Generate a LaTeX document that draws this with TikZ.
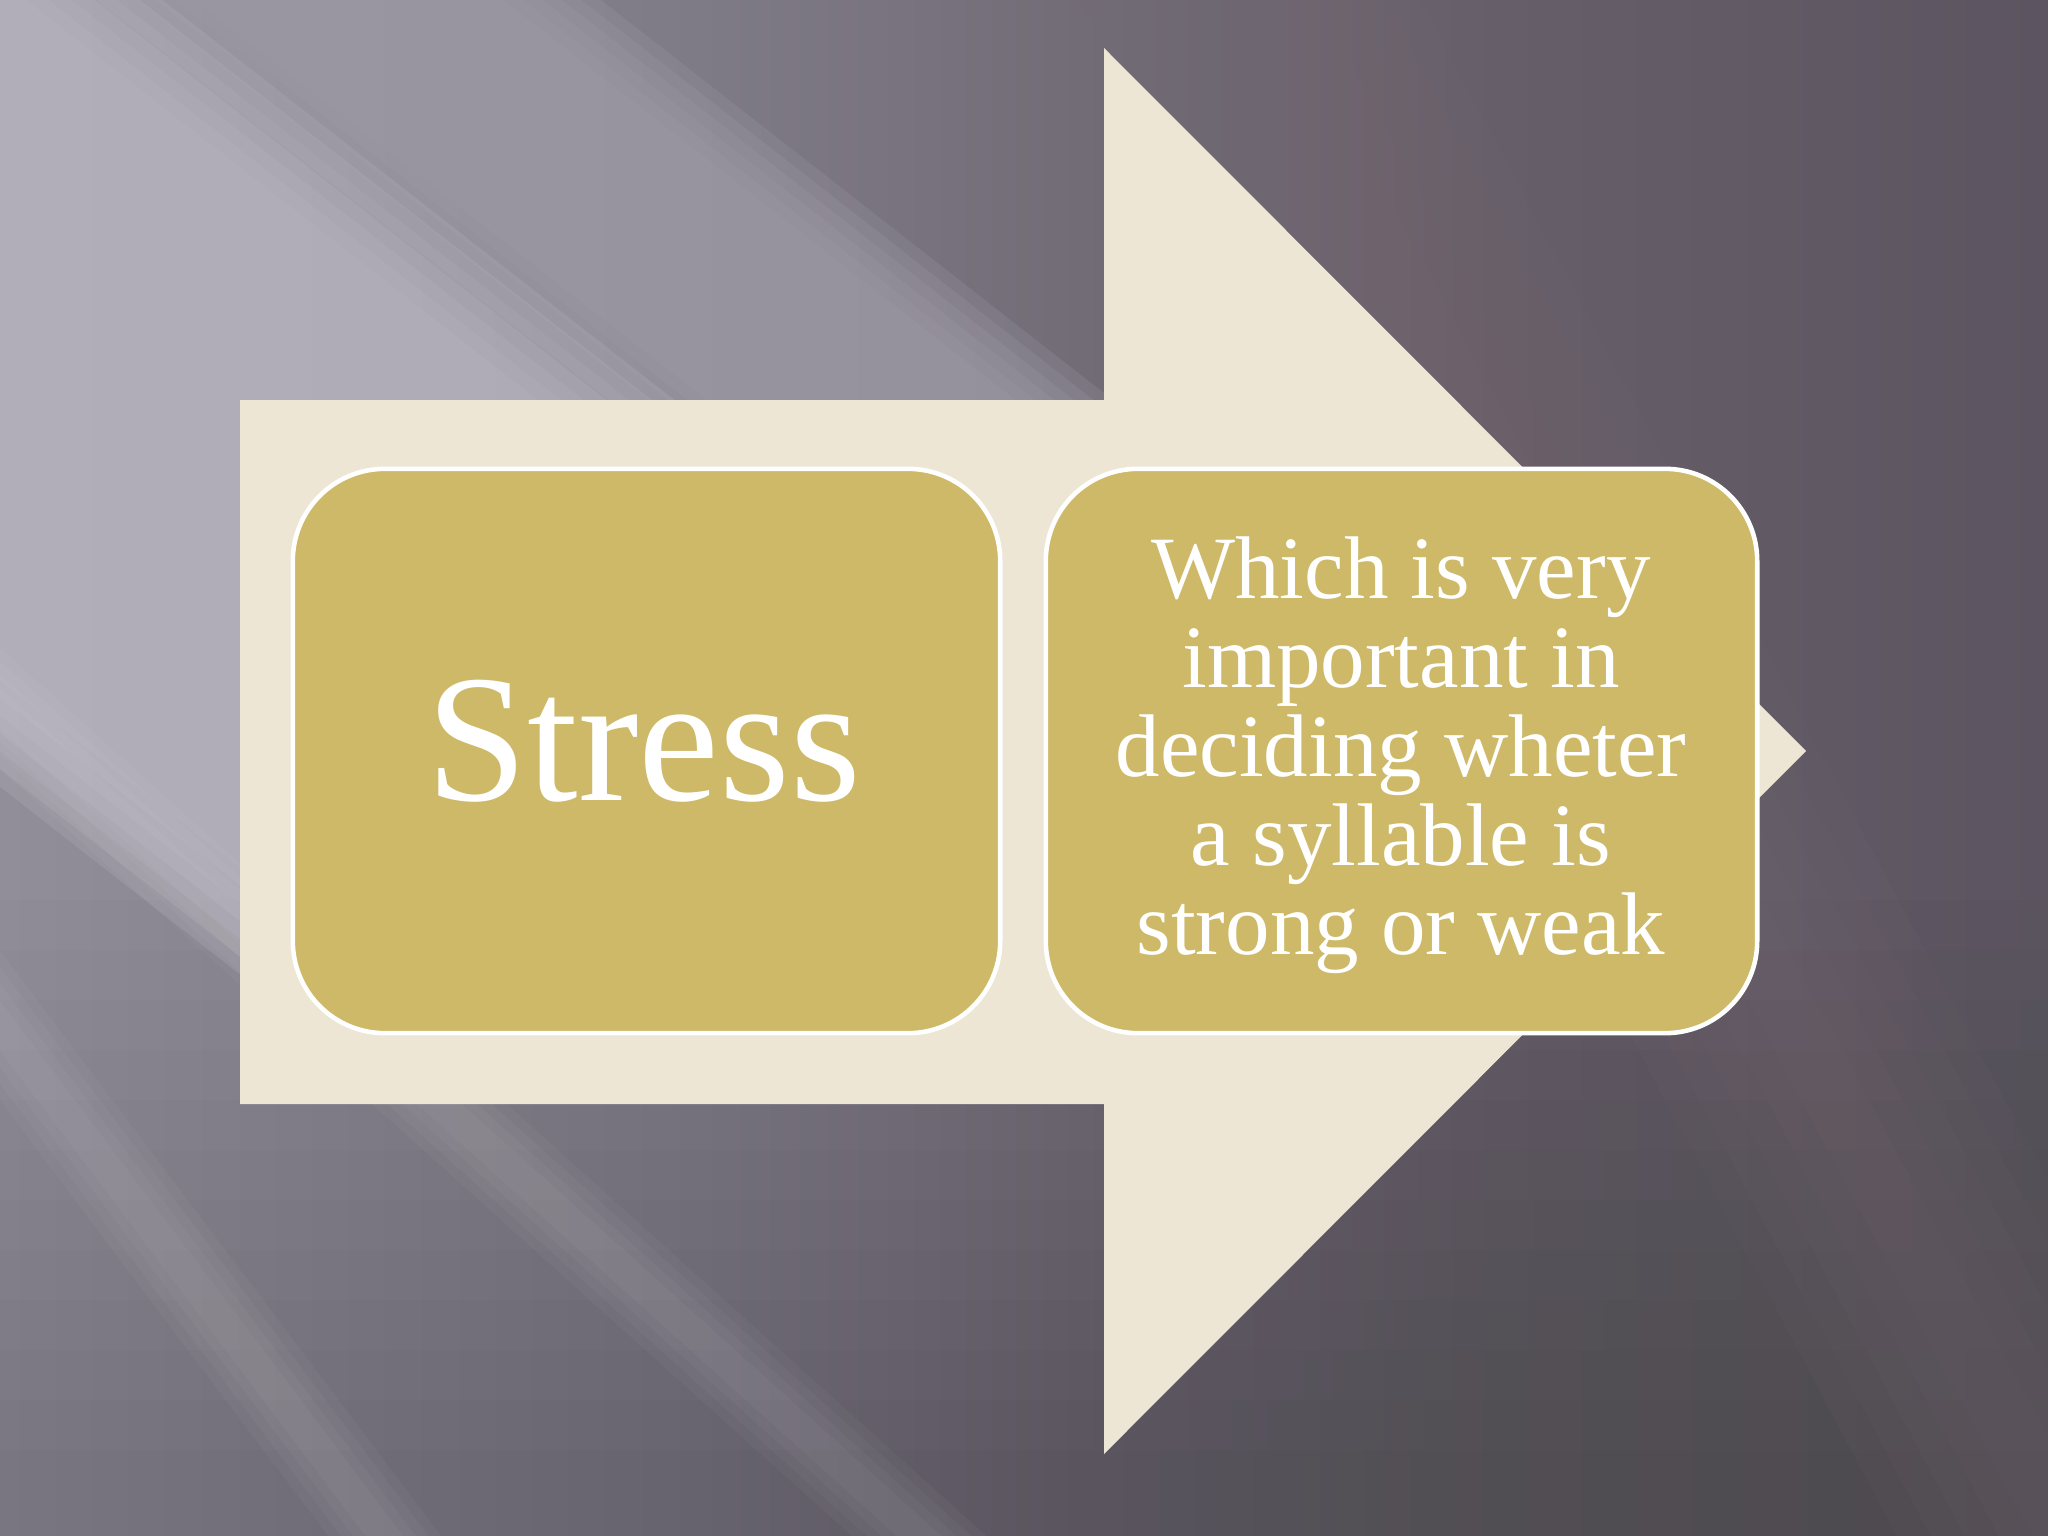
\documentclass[tikz,border=0pt]{standalone}
\usepackage{fontspec}
\setmainfont{Liberation Serif}
\usetikzlibrary{calc}
\definecolor{bgA}{HTML}{928E99}
\definecolor{bgB}{HTML}{7F7B86}
\definecolor{bgC}{HTML}{716B76}
\definecolor{bgD}{HTML}{665F69}
\definecolor{bgE}{HTML}{5C5561}
\definecolor{bandlight}{HTML}{BAB7C3}
\definecolor{bandmid}{HTML}{A09DA9}
\definecolor{pinktint}{HTML}{7C6B76}
\definecolor{arrowfill}{HTML}{EDE6D5}
\definecolor{boxfill}{HTML}{CDB968}
\pgfdeclarehorizontalshading{bgshade}{100bp}{color(0bp)=(bgA); color(25bp)=(bgA); color(42bp)=(bgB); color(52bp)=(bgC); color(61.6bp)=(bgD); color(75bp)=(bgE); color(100bp)=(bgE)}
\tikzset{
  gbox/.style={draw=white, line width=1.3pt, fill=boxfill, rounded corners=0.92cm,
    inner sep=0pt, text=white},
  softlayer/.style={fill=#1, fill opacity=0.22},
  streakline/.style={draw=white, draw opacity=0.03, line cap=butt},
}
\begin{document}
\begin{tikzpicture}[x=0.01cm,y=-0.01cm]
\useasboundingbox (0,0) rectangle (2048,1536);
\clip (0,0) rectangle (2048,1536);
% background base
\shade[shading=bgshade] (0,0) rectangle (2048,1536);
% soft darkening towards the bottom
\foreach \i in {0,...,11} {
  \fill[black, fill opacity=0.01] (0,900+\i*50) rectangle (2048,1536);
}
% medium and light diagonal bands (top-left), ends hidden under the arrow
\begin{scope}[rotate around={-38:(0,0)}]
  \foreach \i in {0,...,5} {
    \fill[softlayer=bandmid] (-700,-370+\i*12) rectangle (1250-\i*25,-60-\i*12);
  }
  \foreach \i in {0,...,6} {
    \fill[softlayer=bandlight] (-700,-100+\i*14) rectangle (990-\i*28,620-\i*14);
  }
\end{scope}
% pinkish tint, upper right
\begin{scope}[rotate around={-62:(1250,0)}]
  \foreach \i in {0,...,4} {
    \fill[pinktint, fill opacity=0.07] (800,-150+\i*30) rectangle (3300,150-\i*30);
  }
\end{scope}
% light streaks, lower left
\coordinate (s1) at (56,1100);
\coordinate (s2) at (435,1100);
\foreach \w in {30,50,70,90} {
  \draw[streakline, line width=\w*0.2845pt] ($(s1)+(233:700)$) -- ($(s1)+(53:700)$);
  \draw[streakline, line width=\w*0.2845pt] ($(s2)+(222:900)$) -- ($(s2)+(42:900)$);
}
% big arrow
\fill[arrowfill] (240,400) -- (1104,400) -- (1104,48) -- (1806,751)
  -- (1104,1454) -- (1104,1104) -- (240,1104) -- cycle;
% boxes
\node[gbox, minimum width=7.07cm, minimum height=5.64cm] (stress) at (646.5,751) {};
\node[gbox, minimum width=7.11cm, minimum height=5.64cm] (which) at (1401.5,751) {};
\node[text=white, font=\fontsize{51.7pt}{56pt}\selectfont, inner sep=0pt] (stresstxt) at (644,741) {Stress};
\node[text=white, font=\fontsize{25.3pt}{25.3pt}\selectfont, align=center, inner sep=0pt] (whichtxt) at (1401,755)
  {Which is very\\important in\\deciding wheter\\a syllable is\\strong or weak};
\end{tikzpicture}
\end{document}
